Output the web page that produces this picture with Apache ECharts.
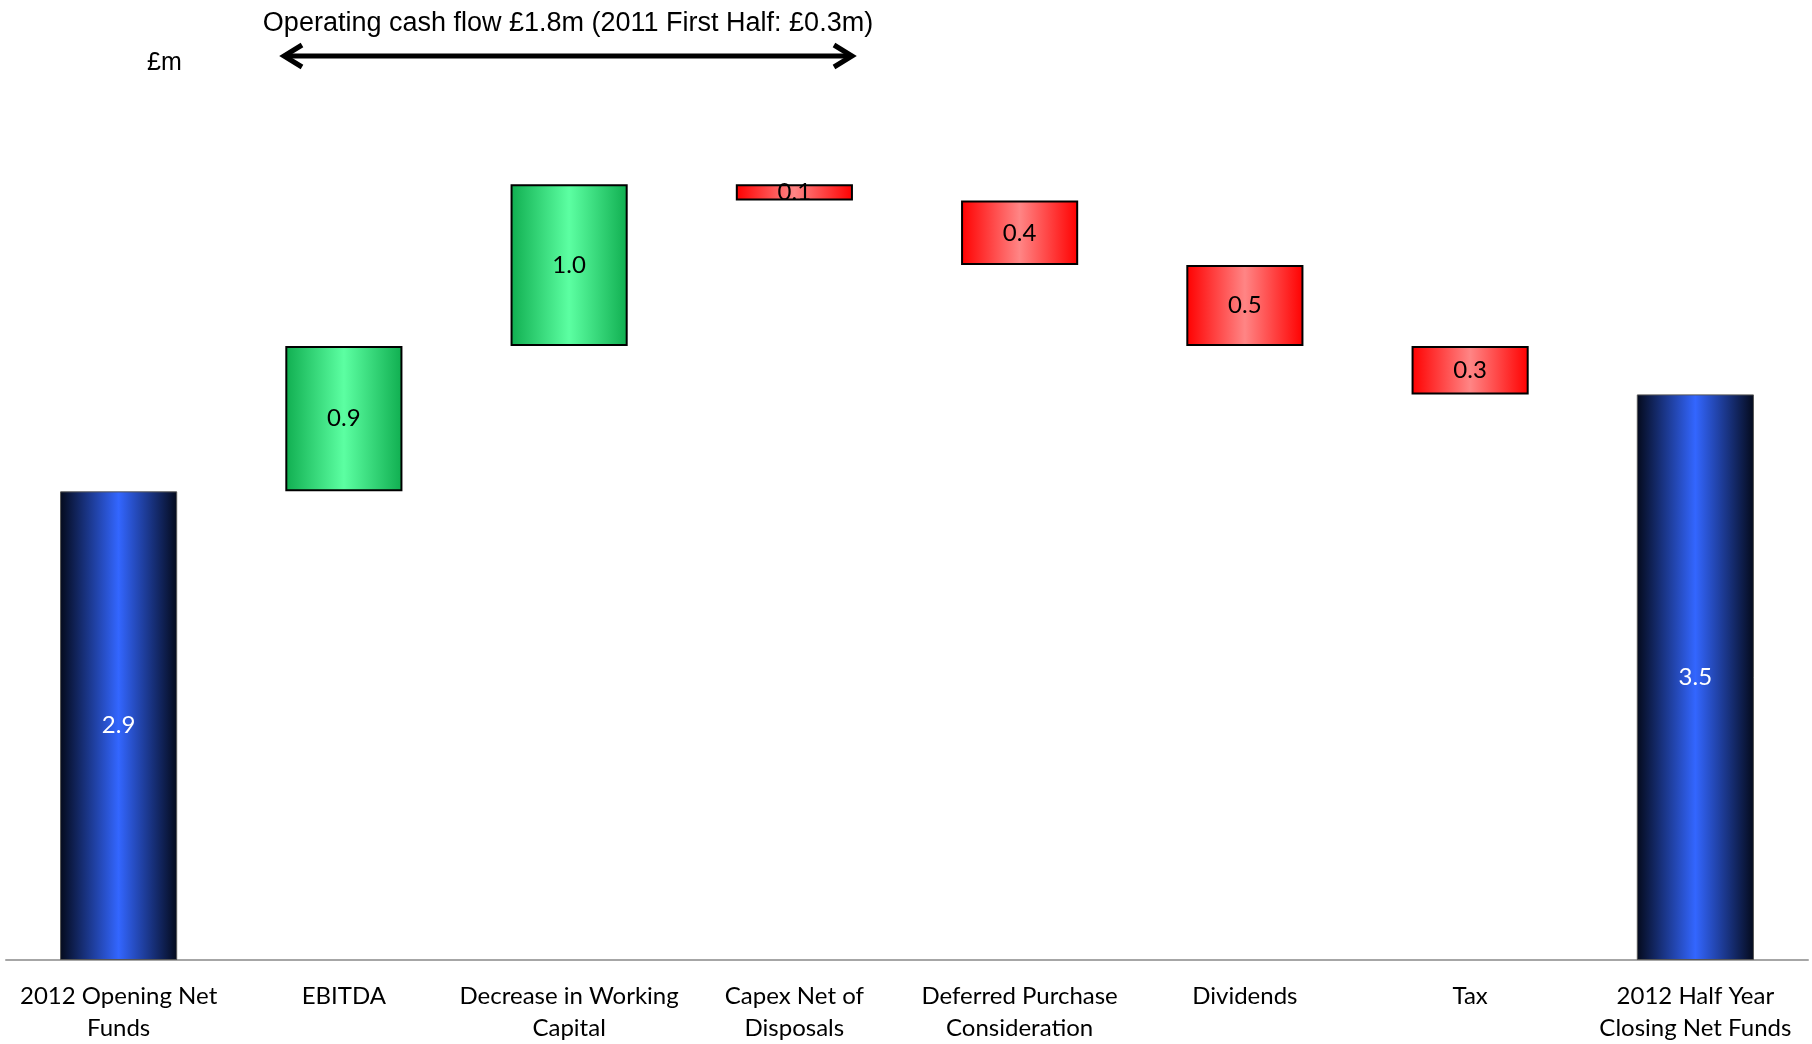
<!DOCTYPE html>
<html>
<head>
<meta charset="utf-8">
<title>Net funds bridge</title>
<script src="https://cdn.jsdelivr.net/npm/echarts@6/dist/echarts.min.js"></script>
<style>
  html, body { margin: 0; padding: 0; background: #fff; }
  #chart { width: 1812px; height: 1044px; }
</style>
</head>
<body>
<div id="chart"></div>
<script>
// Categories along the bridge (first and last are totals)
const categories = [
  '2012 Opening Net\nFunds',
  'EBITDA',
  'Decrease in Working\nCapital',
  'Capex Net of\nDisposals',
  'Deferred Purchase\nConsideration',
  'Dividends',
  'Tax',
  '2012 Half Year\nClosing Net Funds'
];

// £m values
const openingNetFunds = 2.9;
const movements = [0.9, 1.0, -0.1, -0.4, -0.5, -0.3];
const closingNetFunds = 3.5;

const headline = 'Operating cash flow £1.8m (2011 First Half: £0.3m)';
const unitLabel = '£m';

// Build the stacked pieces: invisible base + totals / increases / decreases
const baseData = ['-'];
const totalData = [openingNetFunds];
const incData = ['-'];
const decData = ['-'];
let running = openingNetFunds;
movements.forEach(m => {
  if (m >= 0) {
    baseData.push(+running.toFixed(2));
    incData.push(m);
    decData.push('-');
    running += m;
  } else {
    running += m;
    baseData.push(+running.toFixed(2));
    incData.push('-');
    decData.push(-m);
  }
  totalData.push('-');
});
baseData.push('-');
totalData.push(closingNetFunds);
incData.push('-');
decData.push('-');

const FONT = 'Lato, "Open Sans", sans-serif';
const BAR_WIDTH = '52%';

function hGrad(edge, mid) {
  return new echarts.graphic.LinearGradient(0, 0, 1, 0, [
    { offset: 0, color: edge },
    { offset: 0.5, color: mid },
    { offset: 1, color: edge }
  ]);
}

const valueLabel = (color) => ({
  show: true,
  position: 'inside',
  fontFamily: FONT,
  fontSize: 24,
  color: color,
  formatter: p => Number(p.value).toFixed(1)
});

const chart = echarts.init(document.getElementById('chart'), null, { renderer: 'canvas' });

chart.setOption({
  animation: false,
  backgroundColor: '#ffffff',
  grid: { left: 6, right: 4, top: 152, bottom: 82, containLabel: false },
  xAxis: {
    type: 'category',
    data: categories,
    axisTick: { show: false },
    axisLine: { lineStyle: { color: '#a6a6a6', width: 2 } },
    axisLabel: {
      interval: 0,
      margin: 20,
      fontFamily: FONT,
      fontSize: 24,
      lineHeight: 32,
      color: '#000'
    }
  },
  yAxis: {
    type: 'value',
    min: 0,
    max: 5,
    show: false,
    splitLine: { show: false }
  },
  series: [
    {
      name: 'base',
      type: 'bar',
      stack: 'bridge',
      barWidth: BAR_WIDTH,
      itemStyle: { color: 'transparent' },
      data: baseData,
      silent: true
    },
    {
      name: 'Net funds',
      type: 'bar',
      stack: 'bridge',
      barWidth: BAR_WIDTH,
      itemStyle: {
        color: hGrad('#040a1c', '#3366ff'),
        borderColor: '#555',
        borderWidth: 1
      },
      label: valueLabel('#ffffff'),
      data: totalData
    },
    {
      name: 'Inflow',
      type: 'bar',
      stack: 'bridge',
      barWidth: BAR_WIDTH,
      itemStyle: {
        color: hGrad('#10ae50', '#5cffa2'),
        borderColor: '#000',
        borderWidth: 2
      },
      label: valueLabel('#000000'),
      data: incData
    },
    {
      name: 'Outflow',
      type: 'bar',
      stack: 'bridge',
      barWidth: BAR_WIDTH,
      itemStyle: {
        color: hGrad('#ff0000', '#ff8585'),
        borderColor: '#000',
        borderWidth: 2
      },
      label: valueLabel('#000000'),
      data: decData
    }
  ],
  graphic: [
    {
      type: 'text',
      left: 147,
      top: 51,
      style: { text: unitLabel, font: '25px "Liberation Sans", Arial, sans-serif', fill: '#000' }
    },
    {
      type: 'text',
      x: 568,
      y: 24,
      style: {
        text: headline,
        font: '27px "Liberation Sans", Arial, sans-serif',
        fill: '#000',
        align: 'center',
        verticalAlign: 'middle'
      }
    },
    {
      type: 'line',
      shape: { x1: 284, y1: 56, x2: 852, y2: 56 },
      style: { stroke: '#000', lineWidth: 5 }
    },
    {
      type: 'polyline',
      shape: { points: [[302, 45], [284, 56], [302, 67]] },
      style: { stroke: '#000', lineWidth: 5, fill: null, lineJoin: 'miter' }
    },
    {
      type: 'polyline',
      shape: { points: [[834, 45], [852, 56], [834, 67]] },
      style: { stroke: '#000', lineWidth: 5, fill: null, lineJoin: 'miter' }
    }
  ]
});
</script>
</body>
</html>
